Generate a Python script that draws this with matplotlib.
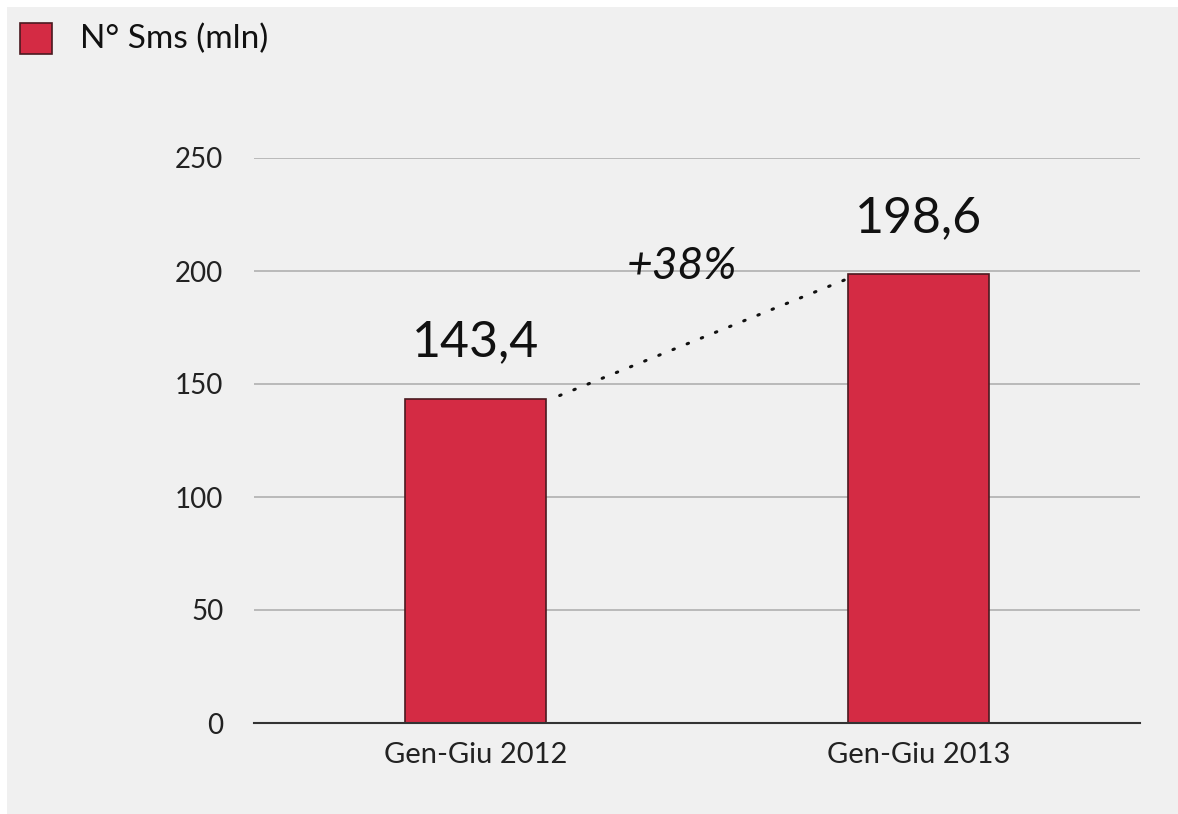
import matplotlib
matplotlib.use("Agg")
import matplotlib.pyplot as plt
from matplotlib.patches import Rectangle

# dati
categories = ["Gen-Giu 2012", "Gen-Giu 2013"]
values = [143.4, 198.6]
value_labels = ["143,4", "198,6"]
growth_label = "+38%"
legend_label = "N° Sms (mln)"
y_ticks = [0, 50, 100, 150, 200, 250]

BAR_COLOR = "#d42b44"
EDGE_COLOR = "#4a1a20"
BG = "#f0f0f0"

plt.rcParams["font.family"] = ["Lato", "DejaVu Sans"]

fig = plt.figure(figsize=(11.78, 8.14), dpi=100)
fig.patch.set_facecolor(BG)
# bordo bianco sottile in alto e a sinistra
fig.patches.append(Rectangle((0, 1 - 7 / 814), 1, 7 / 814, transform=fig.transFigure,
                             facecolor="white", edgecolor="none"))
fig.patches.append(Rectangle((0, 0), 7 / 1178, 1, transform=fig.transFigure,
                             facecolor="white", edgecolor="none"))

ax = fig.add_axes([254 / 1178, 91 / 814, (1140 - 254) / 1178, (723 - 158) / 814])
ax.set_facecolor(BG)
ax.patch.set_alpha(0)

x = list(range(len(categories)))
ax.bar(x, values, width=0.32, color=BAR_COLOR, edgecolor=EDGE_COLOR, linewidth=1.2, zorder=3)

ax.set_xlim(-0.5, 1.5)
ax.set_ylim(0, 250)
ax.set_yticks(y_ticks)
ax.set_xticks(x)
ax.set_xticklabels(categories)
ax.tick_params(axis="both", length=0, colors="#222222")
ax.tick_params(axis="y", pad=22, labelsize=20)
ax.tick_params(axis="x", pad=14, labelsize=21)

ax.grid(axis="y", color="#b0b0b0", linewidth=1.2, zorder=0)
for s in ["top", "right", "left"]:
    ax.spines[s].set_visible(False)
ax.spines["bottom"].set_color("#333333")
ax.spines["bottom"].set_linewidth(1.5)
ax.spines["bottom"].set_zorder(4)

# etichette valori
for xi, v, lab in zip(x, values, value_labels):
    ax.text(xi, v + 25, lab, ha="center", va="center", fontsize=36, color="#111111")

# linea tratteggiata di crescita
ax.plot([x[0] + 0.19, x[1] - 0.166], [values[0] + 1.5, values[1] - 2.5],
        color="#111111", linewidth=2.2, dashes=(0.5, 4.5), dash_capstyle="round", zorder=5)
ax.text(0.465, 202, growth_label, ha="center", va="center", fontsize=32,
        style="italic", color="#111111")

# legenda
fig.patches.append(Rectangle((20 / 1178, 1 - 54 / 814), 32 / 1178, 31 / 814,
                             transform=fig.transFigure, facecolor=BAR_COLOR,
                             edgecolor=EDGE_COLOR, linewidth=1.2))
fig.text(80 / 1178, 1 - 39 / 814, legend_label, ha="left", va="center",
         fontsize=24, color="#111111")

fig.savefig("out.png", dpi=100, facecolor=fig.get_facecolor())
